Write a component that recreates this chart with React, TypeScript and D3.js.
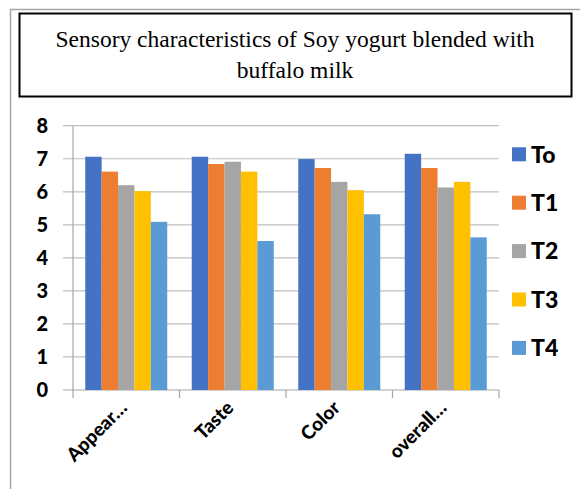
import * as d3 from "d3";
import { useEffect, useRef } from "react";

const categories = ["Appear…", "Taste", "Color", "overall…"];
const seriesNames = ["To", "T1", "T2", "T3", "T4"];
// values[series][category]
const To = [7.06, 7.06, 6.99, 7.15];
const T1 = [6.61, 6.84, 6.72, 6.72];
const T2 = [6.2, 6.91, 6.3, 6.13];
const T3 = [6.02, 6.61, 6.05, 6.3];
const T4 = [5.09, 4.51, 5.32, 4.62];
const yTicks = [0, 1, 2, 3, 4, 5, 6, 7, 8];
const colors = ["#4472c4", "#ed7d31", "#a5a5a5", "#ffc000", "#5b9bd5"];

const titleLines = ["Sensory characteristics of Soy yogurt blended with", "buffalo milk"];

function draw(node: SVGSVGElement) {
  const width = 580;
  const height = 489;
  const marginLeft = 73;
  const plotRight = 499;
  const marginTop = 125.7;
  const plotBottom = 390;
  const font = "Lato, sans-serif";

  const svg = d3.select(node);
  svg.selectAll("*").remove();
  svg.attr("width", width).attr("height", height).attr("viewBox", [0, 0, width, height]);

  svg.append("rect").attr("width", width).attr("height", height).attr("fill", "white");

  // outer gray frame
  svg.append("path")
    .attr("d", `M10.5,${height} V9.5 H${width}`)
    .attr("fill", "none")
    .attr("stroke", "#a6a6a6")
    .attr("stroke-width", 1.5);

  // title box
  svg.append("rect")
    .attr("x", 19.5).attr("y", 13.5)
    .attr("width", 552).attr("height", 83)
    .attr("fill", "white")
    .attr("stroke", "black")
    .attr("stroke-width", 2);

  svg.append("g")
    .style("font-family", "Liberation Serif, serif")
    .style("font-size", "23.5px")
    .attr("text-anchor", "middle")
    .selectAll("text")
    .data(titleLines)
    .join("text")
      .attr("x", 295)
      .attr("y", (_, i) => 47 + i * 30.5)
      .text(d => d);

  const data = [To, T1, T2, T3, T4];

  const x0 = d3.scaleBand<string>()
    .domain(categories)
    .range([marginLeft, plotRight])
    .paddingInner(0.23)
    .paddingOuter(0.115);

  const x1 = d3.scaleBand<string>()
    .domain(seriesNames)
    .range([0, x0.bandwidth()]);

  const y = d3.scaleLinear().domain([0, 8]).range([plotBottom, marginTop]);

  // gridlines
  svg.append("g")
    .selectAll("line")
    .data(yTicks)
    .join("line")
      .attr("x1", 63).attr("x2", plotRight)
      .attr("y1", d => y(d)).attr("y2", d => y(d))
      .attr("stroke", d => (d === 0 ? "#a6a6a6" : "#bfbfbf"))
      .attr("stroke-width", 1.2);

  // vertical axis line
  svg.append("line")
    .attr("x1", marginLeft).attr("x2", marginLeft)
    .attr("y1", marginTop).attr("y2", plotBottom)
    .attr("stroke", "#a6a6a6").attr("stroke-width", 1.2);

  // bars
  svg.append("g")
    .selectAll("g")
    .data(data)
    .join("g")
      .attr("fill", (_, i) => colors[i])
    .selectAll("rect")
    .data((vals, si) => vals.map((v, ci) => ({ v, ci, si })))
    .join("rect")
      .attr("x", d => (x0(categories[d.ci]) ?? 0) + (x1(seriesNames[d.si]) ?? 0))
      .attr("y", d => y(d.v))
      .attr("width", x1.bandwidth())
      .attr("height", d => y(0) - y(d.v));

  // category tick marks
  const tickXs = categories.map(c => (x0(c) ?? 0) - x0.step() * 0.115).concat([plotRight]);
  svg.append("g")
    .selectAll("line")
    .data(tickXs)
    .join("line")
      .attr("x1", d => d).attr("x2", d => d)
      .attr("y1", plotBottom).attr("y2", plotBottom + 8)
      .attr("stroke", "#a6a6a6").attr("stroke-width", 1.2);

  // y tick labels
  svg.append("g")
    .style("font-family", font)
    .style("font-weight", "900")
    .style("font-size", "20px")
    .attr("text-anchor", "end")
    .selectAll("text")
    .data(yTicks)
    .join("text")
      .attr("x", 48)
      .attr("y", d => y(d))
      .attr("dy", "0.36em")
      .text(d => d);

  // category labels
  svg.append("g")
    .style("font-family", font)
    .style("font-weight", "900")
    .style("font-size", "19px")
    .attr("text-anchor", "end")
    .selectAll("text")
    .data(categories)
    .join("text")
      .attr("transform", d => `translate(${(x0(d) ?? 0) + x0.bandwidth() / 2 + 2},${plotBottom + 19}) rotate(-45)`)
      .text(d => d);

  // legend
  const legend = svg.append("g")
    .style("font-family", font)
    .style("font-weight", "900")
    .style("font-size", "23px")
    .selectAll("g")
    .data(seriesNames)
    .join("g")
      .attr("transform", (_, i) => `translate(512,${154.3 + i * 48.4})`);
  legend.append("rect")
    .attr("x", 0).attr("y", -7)
    .attr("width", 14).attr("height", 14)
    .attr("fill", (_, i) => colors[i]);
  legend.append("text")
    .attr("x", 19)
    .attr("dy", "0.36em")
    .text(d => d);
}

export default function App() {
  const ref = useRef<SVGSVGElement | null>(null);
  useEffect(() => {
    if (ref.current) draw(ref.current);
  }, []);
  return <svg ref={ref} style={{ position: "absolute", left: 0, top: 0 }} />;
}
